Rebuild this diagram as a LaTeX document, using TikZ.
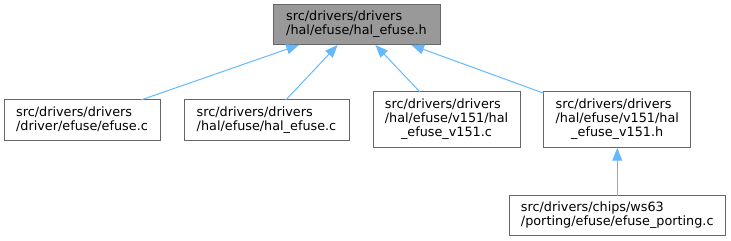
\documentclass[tikz,border=0pt]{standalone}
\usepackage{fontspec}
\setmainfont{DejaVu Sans}
\usetikzlibrary{arrows.meta}
\definecolor{edgecol}{HTML}{63B8FF}
\definecolor{bordercol}{HTML}{666666}
\definecolor{topfill}{HTML}{999999}
\newcommand\lblL[1]{\begin{tabular}{@{}l@{}}#1\end{tabular}}
\newcommand\lblC[3]{\begin{tabular}{@{}c@{}}\multicolumn{1}{@{}l@{}}{#1}\\\multicolumn{1}{@{}l@{}}{#2}\\#3\end{tabular}}
\tikzset{
  filebox/.style={draw=bordercol, line width=0.75pt, fill=white, rectangle, inner sep=0pt, outer sep=0pt,
    font=\fontsize{9.6pt}{10.5pt}\selectfont, text=black},
  topbox/.style={filebox, fill=topfill},
  depedge/.style={draw=edgecol, line width=0.75pt, {Triangle[length=9.5pt,width=7.5pt]}-}
}
\begin{document}
\begin{tikzpicture}[x=0.75pt,y=-0.75pt]
\useasboundingbox (0,0) rectangle (731,241);
\node[topbox, minimum width=167*0.75pt, minimum height=40*0.75pt] (top) at (356.5,25)
  {\lblL{src/drivers/drivers\\/hal/efuse/hal\_efuse.h}};
\node[filebox, minimum width=156*0.75pt, minimum height=41*0.75pt] (b1) at (82,120.5)
  {\lblL{src/drivers/drivers\\/driver/efuse/efuse.c}};
\node[filebox, minimum width=165*0.75pt, minimum height=41*0.75pt] (b2) at (266.5,120.5)
  {\lblL{src/drivers/drivers\\/hal/efuse/hal\_efuse.c}};
\node[filebox, minimum width=147*0.75pt, minimum height=56*0.75pt] (b3) at (446.5,120)
  {\lblC{src/drivers/drivers}{/hal/efuse/v151/hal}{\_efuse\_v151.c}};
\node[filebox, minimum width=147*0.75pt, minimum height=56*0.75pt] (b4) at (617.25,120)
  {\lblC{src/drivers/drivers}{/hal/efuse/v151/hal}{\_efuse\_v151.h}};
\node[filebox, minimum width=216*0.75pt, minimum height=40*0.75pt] (b5) at (617.25,216)
  {\lblL{src/drivers/chips/ws63\\/porting/efuse/efuse\_porting.c}};
\draw[depedge] (top) -- (b1);
\draw[depedge] (top) -- (b2);
\draw[depedge] (top) -- (b3);
\draw[depedge] (top) -- (b4);
\draw[depedge] (b4) -- (b5);
\end{tikzpicture}
\end{document}
